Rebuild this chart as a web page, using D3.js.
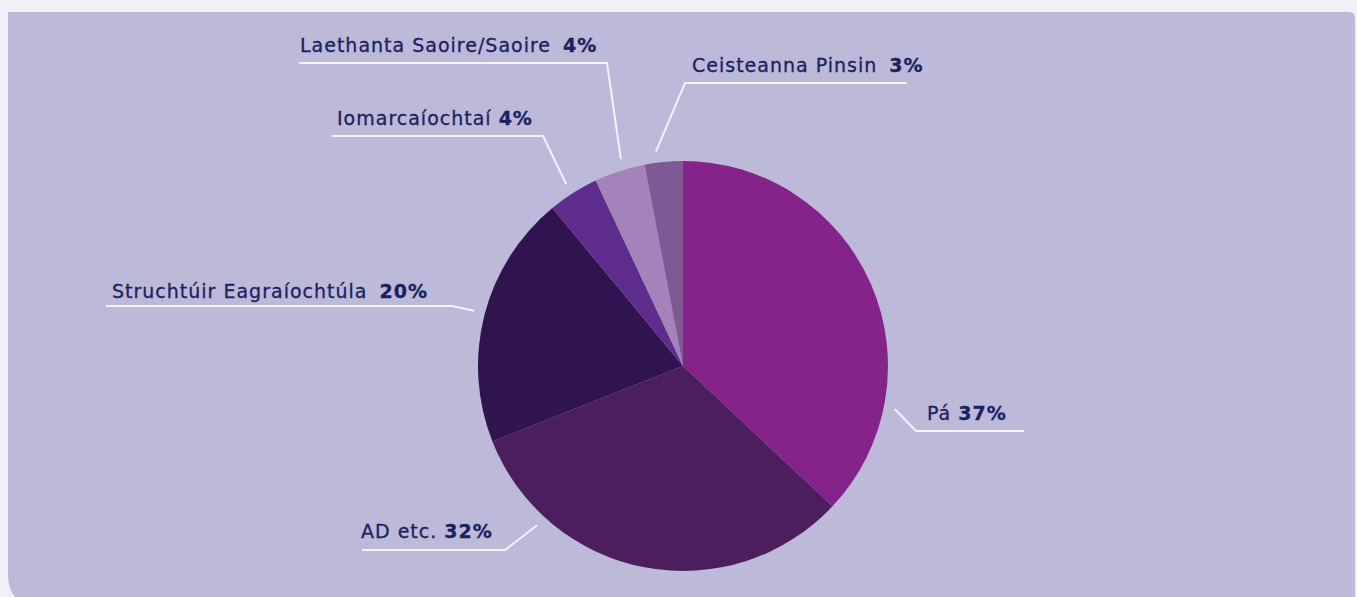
<!DOCTYPE html>
<html>
<head>
<meta charset="utf-8">
<script src="https://cdn.jsdelivr.net/npm/d3@7"></script>
<style>
  html, body { margin: 0; padding: 0; background: #f0f1f6; }
  svg { display: block; }
</style>
</head>
<body>
<svg id="chart" width="1357" height="597"></svg>
<script>
// ---- data ----
const categories = ["Pá", "AD etc.", "Struchtúir Eagraíochtúla", "Iomarcaíochtaí", "Laethanta Saoire/Saoire", "Ceisteanna Pinsin"];
const values = [37, 32, 20, 4, 4, 3];
const colors = ["#86238a", "#4b1f5e", "#30144f", "#5e2c8c", "#a383ba", "#7d5a94"];

// ---- layout of label callouts (annotation positions, not data) ----
// anchorDeg: angle (clockwise from 12 o'clock) where the leader touches the pie
const callouts = [
  { anchorDeg: 101.5, elbow: [916, 431], end: [1024, 431], text: [927, 420], gap: 7 },
  { anchorDeg: 222.5, elbow: [505, 550], end: [362, 550], text: [361, 538], gap: 7 },
  { anchorDeg: 284.8, elbow: [452, 306], end: [106, 306], text: [112, 298], gap: 12 },
  { anchorDeg: 327.3, elbow: [543, 136], end: [332, 136], text: [337, 125], gap: 7 },
  { anchorDeg: 343.3, elbow: [607, 63],  end: [299, 63],  text: [300, 52], gap: 12 },
  { anchorDeg: 352.8, elbow: [685, 83],  end: [907, 83],  text: [692, 72], gap: 12 }
];

const svg = d3.select("#chart");

// panel background: square top-left, small top-right radius, large bottom-left radius
const px0 = 8, py0 = 12, px1 = 1355, py1 = 606, rTR = 6, rBL = 32, rBR = 6;
svg.append("path")
  .attr("d", `M${px0},${py0} L${px1 - rTR},${py0} Q${px1},${py0} ${px1},${py0 + rTR}
              L${px1},${py1 - rBR} Q${px1},${py1} ${px1 - rBR},${py1}
              L${px0 + rBL},${py1} Q${px0},${py1} ${px0},${py1 - rBL} Z`)
  .attr("fill", "#bdb9d9");

const cx = 683, cy = 366, R = 205;
const g = svg.append("g").attr("transform", `translate(${cx},${cy})`);

const pie = d3.pie().sort(null).value(d => d.v);
const arcs = pie(values.map((v, i) => ({ v, i })));
const arc = d3.arc().innerRadius(0).outerRadius(R);

g.selectAll("path.slice")
  .data(arcs)
  .join("path")
  .attr("class", "slice")
  .attr("d", arc)
  .attr("fill", d => colors[d.data.i]);

// leader lines and labels
const lineR = R + 11;
const lineGen = d3.line();
callouts.forEach((c, i) => {
  const a = c.anchorDeg * Math.PI / 180;
  const start = [cx + lineR * Math.sin(a), cy - lineR * Math.cos(a)];
  svg.append("path")
    .attr("d", lineGen([start, c.elbow, c.end]))
    .attr("fill", "none")
    .attr("stroke", "#f3f3f9")
    .attr("stroke-width", 2);

  const t = svg.append("text")
    .attr("x", c.text[0])
    .attr("y", c.text[1])
    .attr("font-family", "'DejaVu Sans', sans-serif")
    .attr("font-size", 19)
    .attr("letter-spacing", 1.0)
    .attr("fill", "#1a2361")
    .attr("stroke", "#1a2361")
    .attr("stroke-width", 0.3);
  t.append("tspan").text(categories[i]);
  t.append("tspan").attr("dx", c.gap).attr("font-weight", 700).text(values[i] + "%");
});
</script>
</body>
</html>
